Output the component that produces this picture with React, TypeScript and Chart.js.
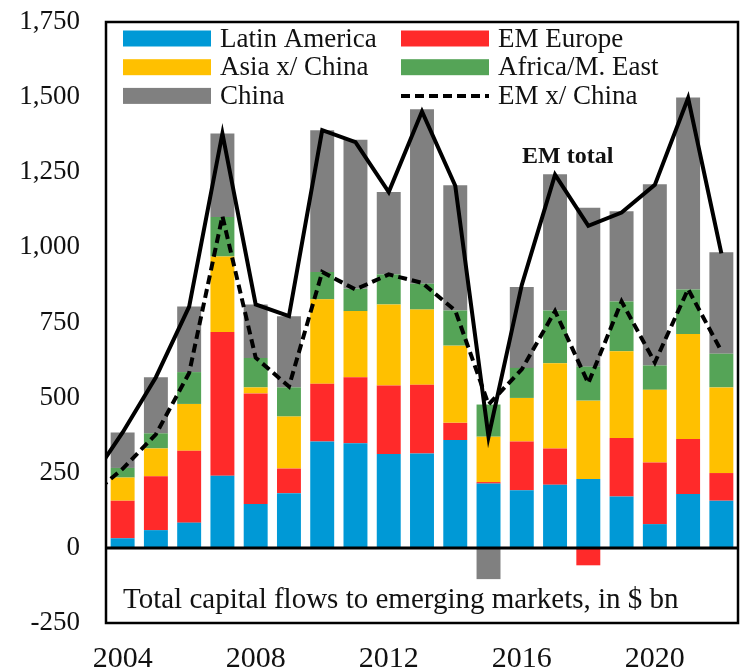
import React, { useEffect, useRef } from 'react';
import { Chart, registerables } from 'chart.js';

Chart.register(...registerables);

// ---- data (values in $ bn) ----
const years = ['2003', '2004', '2005', '2006', '2007', '2008', '2009', '2010', '2011', '2012', '2013', '2014', '2015', '2016', '2017', '2018', '2019', '2020', '2021', '2022'];
const latinAmerica = [null, 32, 59, 84, 240, 146, 182, 354, 348, 312, 314, 359, 214, 192, 210, 229, 171, 79, 179, 157];
const emEurope = [null, 125, 179, 239, 478, 368, 82, 192, 220, 228, 229, 57, 5, 162, 121, -58, 195, 205, 183, 92];
const asiaXChina = [null, 77, 93, 156, 252, 20, 173, 281, 220, 270, 250, 257, 151, 145, 283, 261, 288, 242, 350, 285];
const africaMEast = [null, 32, 50, 106, 131, 98, 97, 91, 74, 100, 86, 117, 107, 100, 176, 113, 166, 81, 148, 112];
const china = [null, 118, 187, 218, 278, 178, 237, 472, 496, 274, 581, 417, -104, 269, 453, 529, 300, 603, 639, 338];
const emTotal = [220, 384, 568, 803, 1379, 810, 771, 1390, 1350, 1184, 1452, 1205, 370, 875, 1242, 1072, 1116, 1208, 1497, 980];
const emXChina = [170, 263, 378, 582, 1104, 633, 537, 918, 860, 910, 882, 790, 477, 594, 788, 548, 820, 617, 861, 655];

const seriesLabels = ['Latin America', 'EM Europe', 'Asia x/ China', 'Africa/M. East', 'China', 'EM total', 'EM x/ China'];
const seriesColors = ['#0099D6', '#FF2A2A', '#FFC000', '#55A457', '#808080', '#000000', '#000000'];
const yTicks = [-250, 0, 250, 500, 750, 1000, 1250, 1500, 1750];
const footnote = 'Total capital flows to emerging markets, in $ bn';
const lineNote = 'EM total';

const FONT = '"Liberation Serif", "Times New Roman", serif';
const DASH = [9, 5];

const overlayPlugin = {
  id: 'overlay',
  afterDraw(chart: any) {
    const { ctx, chartArea: a, scales } = chart;
    const y = scales.y;
    ctx.save();
    // zero line
    const y0 = y.getPixelForValue(0);
    ctx.strokeStyle = '#000';
    ctx.lineWidth = 3;
    ctx.beginPath();
    ctx.moveTo(a.left, y0);
    ctx.lineTo(a.right, y0);
    ctx.stroke();
    // frame
    ctx.lineWidth = 2.5;
    ctx.strokeRect(a.left, a.top, a.right - a.left, a.bottom - a.top);

    // legend
    const items = [0, 1, 2, 3, 4, 6];
    ctx.font = `27px ${FONT}`;
    ctx.textBaseline = 'middle';
    ctx.textAlign = 'left';
    items.forEach((di, i) => {
      const col = i % 2;
      const row = Math.floor(i / 2);
      const sx = a.left + 17 + col * 278;
      const cy = a.top + 16.5 + row * 28.7;
      const ds = chart.data.datasets[di];
      if (ds.type === 'line') {
        ctx.strokeStyle = '#000';
        ctx.lineWidth = 4;
        ctx.setLineDash(DASH);
        ctx.beginPath();
        ctx.moveTo(sx, cy);
        ctx.lineTo(sx + 88, cy);
        ctx.stroke();
        ctx.setLineDash([]);
      } else {
        ctx.fillStyle = ds.backgroundColor;
        ctx.fillRect(sx, cy - 8, 88, 16);
      }
      ctx.fillStyle = '#111';
      ctx.fillText(ds.label, sx + 97, cy + 1);
    });

    // footnote
    ctx.font = `29px ${FONT}`;
    ctx.fillStyle = '#111';
    ctx.fillText(footnote, a.left + 17, y.getPixelForValue(-175));

    // EM total annotation
    ctx.font = `bold 24px ${FONT}`;
    ctx.textBaseline = 'alphabetic';
    ctx.fillText(lineNote, 522, 163);
    ctx.restore();
  },
};

export default function App() {
  const ref = useRef<HTMLCanvasElement>(null);
  useEffect(() => {
    const canvas = ref.current!;
    const barDs = [latinAmerica, emEurope, asiaXChina, africaMEast, china].map((d, i) => ({
      type: 'bar' as const,
      label: seriesLabels[i],
      data: d,
      backgroundColor: seriesColors[i],
      borderWidth: 0,
      stack: 'bars',
      order: 2,
      categoryPercentage: 0.8,
      barPercentage: 0.9,
    }));
    const chart = new Chart(canvas, {
      type: 'bar',
      data: {
        labels: years,
        datasets: [
          ...barDs,
          {
            type: 'line',
            label: seriesLabels[5],
            data: emTotal,
            borderColor: '#000',
            borderWidth: 4,
            pointRadius: 0,
            tension: 0,
            fill: false,
            stack: 'total',
            order: 0,
          },
          {
            type: 'line',
            label: seriesLabels[6],
            data: emXChina,
            borderColor: '#000',
            borderWidth: 4,
            borderDash: DASH,
            pointRadius: 0,
            tension: 0,
            fill: false,
            stack: 'xchina',
            order: 0,
          },
        ] as any,
      },
      options: {
        responsive: false,
        animation: false,
        devicePixelRatio: 1,
        layout: { padding: { top: 22, right: 4, left: 0, bottom: 0 } },
        plugins: { legend: { display: false }, tooltip: { enabled: false }, title: { display: false } },
        scales: {
          x: {
            type: 'category',
            min: '2004',
            stacked: true,
            offset: true,
            grid: { display: false, drawTicks: false },
            border: { display: false },
            afterFit: (s: any) => { s.height = 47; s.paddingLeft = 0; s.paddingRight = 0; },
            ticks: {
              autoSkip: false,
              maxRotation: 0,
              padding: 18,
              color: '#111',
              font: { family: FONT, size: 30 },
              callback: (v: any) => {
                const yr = years[v as number];
                return (Number(yr) - 2004) % 4 === 0 ? yr : '';
              },
            },
          },
          y: {
            stacked: true,
            min: -250,
            max: 1750,
            grid: { display: false, drawTicks: false },
            border: { display: false },
            afterFit: (s: any) => { s.width = 106; s.paddingTop = 0; s.paddingBottom = 0; },
            afterBuildTicks: (s: any) => { s.ticks = yTicks.map((v) => ({ value: v })); },
            ticks: {
              padding: 26,
              color: '#111',
              font: { family: FONT, size: 27 },
              callback: (v: any) => Number(v).toLocaleString('en-US'),
            },
          },
        },
      },
      plugins: [overlayPlugin],
    });
    return () => chart.destroy();
  }, []);
  return (
    <div style={{ position: 'absolute', left: 0, top: 0, width: 742, height: 670, background: '#fff' }}>
      <canvas ref={ref} width={742} height={670} style={{ display: 'block', width: 742, height: 670 }} />
    </div>
  );
}
